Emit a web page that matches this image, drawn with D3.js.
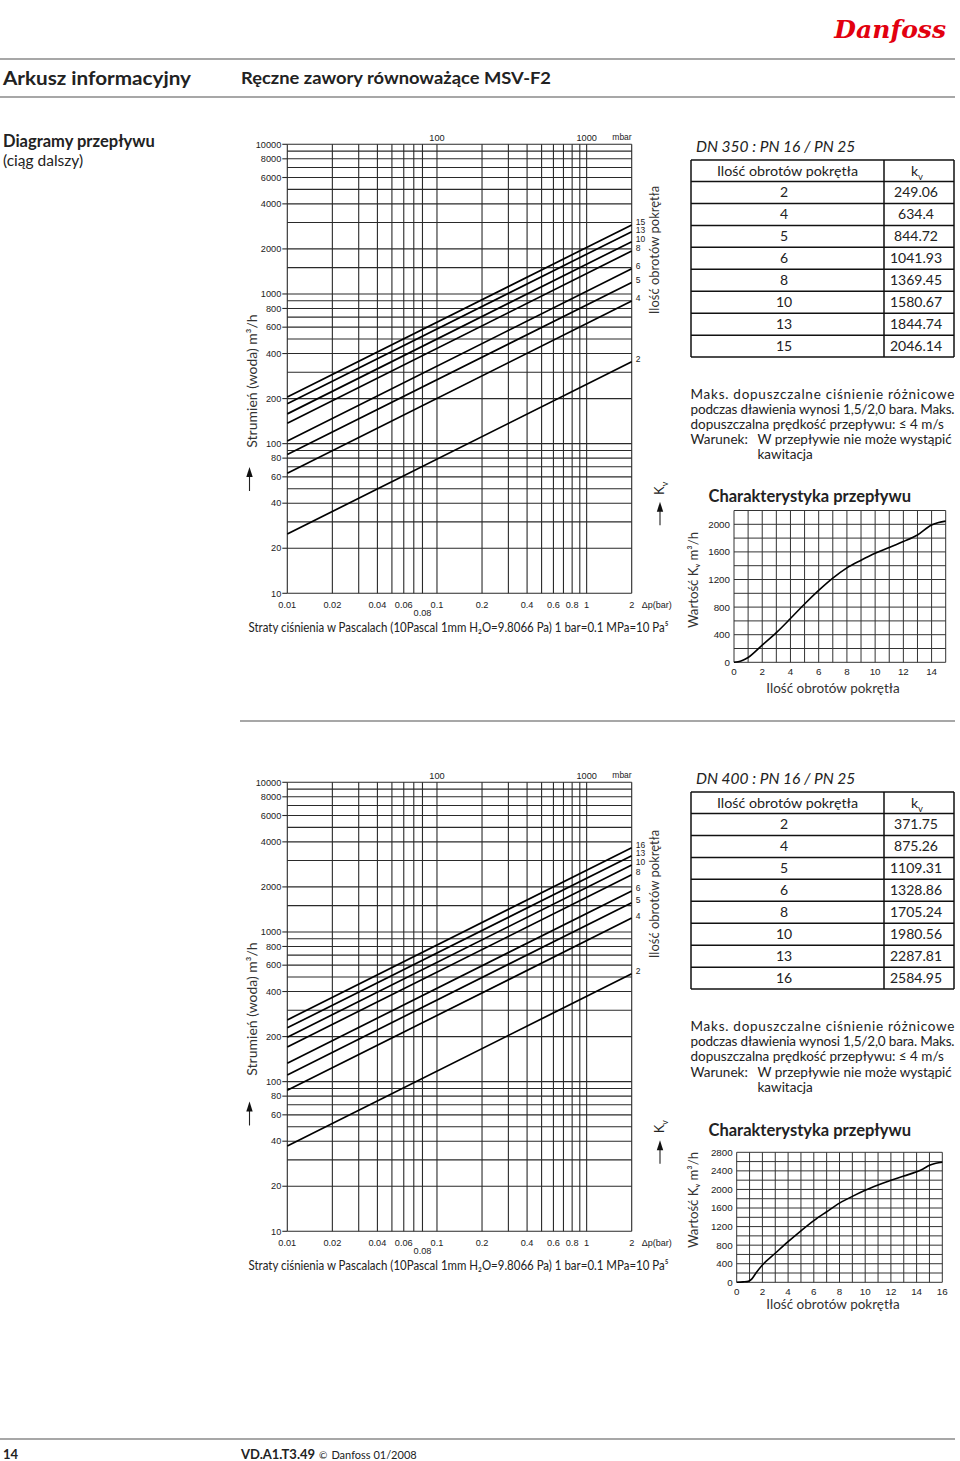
<!DOCTYPE html>
<html><head><meta charset="utf-8">
<script src="https://cdn.jsdelivr.net/npm/d3@7"></script>
<style>body{margin:0;background:#fff}svg{display:block}</style>
</head><body>
<svg id="page" width="960" height="1461"></svg>
<script>
// ---------------- DATA ----------------
const turnsA = [2, 4, 5, 6, 8, 10, 13, 15];
const kvA = [249.06, 634.4, 844.72, 1041.93, 1369.45, 1580.67, 1844.74, 2046.14];
const turnsB = [2, 4, 5, 6, 8, 10, 13, 16];
const kvB = [371.75, 875.26, 1109.31, 1328.86, 1705.24, 1980.56, 2287.81, 2584.95];

const curveTurnsA = [0, 0.5, 1, 2, 3, 4, 5, 6, 7, 8, 9, 10, 11, 12, 13, 14, 14.5, 15];
const curveKvA = [0, 20, 70, 249, 430, 634, 845, 1042, 1220, 1369, 1480, 1581, 1665, 1750, 1845, 1990, 2025, 2046];
const curveTurnsB = [0, 0.5, 0.9, 1.2, 1.5, 2, 3, 4, 5, 6, 7, 8, 9, 10, 11, 12, 13, 14, 14.5, 15, 15.5, 16];
const curveKvB = [0, 10, 20, 80, 200, 372, 625, 875, 1109, 1329, 1520, 1705, 1850, 1981, 2095, 2200, 2288, 2380, 2440, 2520, 2565, 2585];

const dpGrid = [0.01, 0.02, 0.03, 0.04, 0.05, 0.06, 0.07, 0.08, 0.1, 0.2, 0.3, 0.4, 0.5, 0.6, 0.7, 0.8, 0.9, 1, 2];
const qGrid = [10, 20, 30, 40, 50, 60, 70, 80, 90, 100, 200, 300, 400, 500, 600, 700, 800, 900, 1000,
               1500, 2000, 3000, 4000, 5000, 6000, 7000, 8000, 9000, 10000];
const qTickLabels = [10000, 8000, 6000, 4000, 2000, 1000, 800, 600, 400, 200, 100, 80, 60, 40, 20, 10];
const dpTickLabels = ["0.01", "0.02", "0.04", "0.06", "0.1", "0.2", "0.4", "0.6", "0.8", "1", "2"];
const dpLowLabels = ["0.08"];
const mbarLabels = [["0.1", "100"], ["1", "1000"]];

const charXTicksA = [0, 2, 4, 6, 8, 10, 12, 14];
const charYTicksA = [0, 400, 800, 1200, 1600, 2000];
const charXTicksB = [0, 2, 4, 6, 8, 10, 12, 14, 16];
const charYTicksB = [0, 400, 800, 1200, 1600, 2000, 2400, 2800];

const noteLines = [
  "Maks. dopuszczalne ciśnienie różnicowe",
  "podczas dławienia wynosi 1,5/2,0 bara. Maks.",
  "dopuszczalna prędkość przepływu: ≤ 4 m/s"
];

// ---------------- DRAW ----------------
const svg = d3.select("#page");
const SANS = "Lato, 'Open Sans', 'DejaVu Sans', sans-serif";
const ARIAL = "'Liberation Sans', Arial, sans-serif";

function rich(textSel, parts, size) {
  let shift = 0;
  textSel.attr("font-size", size);
  parts.forEach(p => {
    let target = 0, fs = size;
    if (p.sub) { target = size * 0.28; fs = size * 0.68; }
    if (p.sup) { target = -size * 0.42; fs = size * 0.68; }
    const ts = textSel.append("tspan").text(p.t).attr("font-size", fs);
    if (target - shift !== 0) ts.attr("dy", target - shift);
    shift = target;
  });
  return textSel;
}

// header
svg.append("text").attr("x", 946).attr("y", 38).attr("text-anchor", "end")
  .attr("font-family", "'DejaVu Serif', serif").attr("font-style", "italic").attr("font-weight", "bold")
  .attr("font-size", 25).attr("fill", "#e2000f")
  .text("Danfoss");
[59, 97].forEach(y => svg.append("line").attr("x1", 0).attr("x2", 955).attr("y1", y).attr("y2", y)
  .attr("stroke", "#8a8a8a").attr("stroke-width", 1.6));
svg.append("text").attr("x", 3).attr("y", 85).attr("font-family", SANS).attr("font-weight", "bold")
  .attr("font-size", 19).attr("fill", "#222").attr("textLength", 188).attr("lengthAdjust", "spacingAndGlyphs")
  .text("Arkusz informacyjny");
svg.append("text").attr("x", 241).attr("y", 84).attr("font-family", SANS).attr("font-weight", "bold")
  .attr("font-size", 17).attr("fill", "#222").attr("textLength", 310).attr("lengthAdjust", "spacingAndGlyphs")
  .text("Ręczne zawory równoważące MSV-F2");
svg.append("text").attr("x", 3).attr("y", 147).attr("font-family", SANS).attr("font-weight", "bold")
  .attr("font-size", 16.5).attr("fill", "#222").text("Diagramy przepływu");
svg.append("text").attr("x", 3).attr("y", 166).attr("font-family", SANS)
  .attr("font-size", 15.5).attr("fill", "#222").text("(ciąg dalszy)");

// separator & footer
svg.append("line").attr("x1", 240).attr("x2", 955).attr("y1", 721).attr("y2", 721).attr("stroke", "#8a8a8a").attr("stroke-width", 1.6);
svg.append("line").attr("x1", 0).attr("x2", 955).attr("y1", 1439).attr("y2", 1439).attr("stroke", "#8a8a8a").attr("stroke-width", 1.6);
svg.append("text").attr("x", 3).attr("y", 1459).attr("font-family", SANS).attr("font-weight", "bold").attr("font-size", 13).attr("fill", "#222").text("14");
const ft = svg.append("text").attr("x", 241).attr("y", 1459).attr("font-family", SANS).attr("fill", "#222");
ft.append("tspan").attr("font-weight", "bold").attr("font-size", 13).text("VD.A1.T3.49");
ft.append("tspan").attr("font-size", 10).attr("dx", 4).text("©");
ft.append("tspan").attr("font-size", 11).attr("dx", 4).text("Danfoss 01/2008");

// ---------- log-log flow diagram ----------
function drawLog(cfg) {
  const g = svg.append("g");
  const x = d3.scaleLog().domain([0.01, 2]).range([287.3, 631.7]);
  const y = d3.scaleLog().domain([10, 10000]).range([cfg.yBottom, cfg.yTop]);
  const [x0, x1] = x.range();
  const [yb, yt] = y.range();

  g.selectAll(".vg").data(dpGrid).join("line")
    .attr("x1", d => x(d)).attr("x2", d => x(d)).attr("y1", yb).attr("y2", yt)
    .attr("stroke", "#2a2a2a").attr("stroke-width", 1.1);
  g.selectAll(".hg").data(qGrid).join("line")
    .attr("x1", x0).attr("x2", x1).attr("y1", d => y(d)).attr("y2", d => y(d))
    .attr("stroke", "#2a2a2a").attr("stroke-width", 1.1);
  g.selectAll(".yt").data(qTickLabels).join("line")
    .attr("x1", x0 - 5).attr("x2", x0).attr("y1", d => y(d)).attr("y2", d => y(d))
    .attr("stroke", "#2a2a2a").attr("stroke-width", 1.1);
  g.selectAll(".yl").data(qTickLabels).join("text")
    .attr("x", x0 - 6).attr("y", d => y(d)).attr("dy", "0.35em").attr("text-anchor", "end")
    .attr("font-family", ARIAL).attr("font-size", 9.2).attr("fill", "#222").text(d => d);
  g.selectAll(".xl").data(dpTickLabels).join("text")
    .attr("x", d => x(+d)).attr("y", yb + 11).attr("dy", "0.35em").attr("text-anchor", "middle")
    .attr("font-family", ARIAL).attr("font-size", 9.2).attr("fill", "#222").text(d => d);
  g.selectAll(".xl2").data(dpLowLabels).join("text")
    .attr("x", d => x(+d)).attr("y", yb + 19).attr("dy", "0.35em").attr("text-anchor", "middle")
    .attr("font-family", ARIAL).attr("font-size", 9.2).attr("fill", "#222").text(d => d);
  g.append("text").attr("x", x1 + 10).attr("y", yb + 11.5).attr("dy", "0.35em")
    .attr("font-family", ARIAL).attr("font-size", 9).attr("fill", "#222").text("Δp(bar)");
  g.selectAll(".ml").data(mbarLabels).join("text")
    .attr("x", d => x(+d[0])).attr("y", yt - 7).attr("dy", "0.35em").attr("text-anchor", "middle")
    .attr("font-family", ARIAL).attr("font-size", 9.2).attr("fill", "#222").text(d => d[1]);
  g.append("text").attr("x", 622).attr("y", yt - 7).attr("dy", "0.35em").attr("text-anchor", "middle")
    .attr("font-family", ARIAL).attr("font-size", 8.5).attr("fill", "#222").text("mbar");

  // Kv lines: Q = kv * sqrt(dp)
  const line = d3.line().x(d => x(d[0])).y(d => y(d[1]));
  const dom = x.domain();
  g.selectAll(".kv").data(cfg.kv).join("path")
    .attr("d", k => line(dom.map(dp => [dp, k * Math.sqrt(dp)])))
    .attr("fill", "none").attr("stroke", "#000").attr("stroke-width", 1.7);

  const labs = cfg.turns.map((t, i) => ({ t, y: y(cfg.kv[i] * Math.sqrt(dom[1])) - 2.5 }))
    .sort((a, b) => a.y - b.y);
  for (let i = 1; i < labs.length; i++) if (labs[i].y < labs[i - 1].y + 7.8) labs[i].y = labs[i - 1].y + 7.8;
  g.selectAll(".tl").data(labs).join("text")
    .attr("x", x1 + 4).attr("y", d => d.y).attr("dy", "0.35em")
    .attr("font-family", ARIAL).attr("font-size", 8.5).attr("fill", "#222").text(d => d.t);

  g.append("text").attr("transform", `translate(659,${cfg.rightTitleY}) rotate(-90)`)
    .attr("text-anchor", "middle").attr("font-family", SANS).attr("font-size", 13).attr("fill", "#333")
    .text("Ilość obrotów pokrętła");
  rich(g.append("text").attr("transform", `translate(664,${cfg.kvY}) rotate(-90)`)
    .attr("text-anchor", "middle").attr("font-family", SANS).attr("fill", "#222"),
    [{ t: "K" }, { t: "v", sub: true }], 13);
  const arrow = (ax, tip, end) => {
    g.append("line").attr("x1", ax).attr("x2", ax).attr("y1", tip + 8).attr("y2", end).attr("stroke", "#222").attr("stroke-width", 1.1);
    g.append("path").attr("d", `M${ax},${tip} L${ax - 3.2},${tip + 10} L${ax + 3.2},${tip + 10} Z`).attr("fill", "#111");
  };
  arrow(660, cfg.kvY + 13.5, cfg.kvY + 37);
  g.append("text").attr("transform", `translate(257,${cfg.leftTitleY}) rotate(-90)`)
    .attr("text-anchor", "middle").attr("font-family", SANS).attr("font-size", 14).attr("fill", "#333")
    .text("Strumień (woda) m³/h");
  arrow(249.5, cfg.leftArrowY, cfg.leftArrowY + 24);
  g.append("text").attr("x", 248.5).attr("y", yb + 39).attr("font-family", SANS).attr("font-size", 13.5).attr("fill", "#222")
    .attr("textLength", 420).attr("lengthAdjust", "spacingAndGlyphs")
    .text("Straty ciśnienia w Pascalach (10Pascal 1mm H₂O=9.8066 Pa) 1 bar=0.1 MPa=10 Pa⁵");
}

drawLog({ yTop: 144.3, yBottom: 593.3, turns: turnsA, kv: kvA, rightTitleY: 250, kvY: 488.3, leftTitleY: 381, leftArrowY: 467 });
drawLog({ yTop: 782.3, yBottom: 1231.3, turns: turnsB, kv: kvB, rightTitleY: 894, kvY: 1126.7, leftTitleY: 1009, leftArrowY: 1101.5 });

// ---------- table + notes ----------
function drawTable(cfg) {
  const g = svg.append("g");
  const xl = 691, xm = 884, xr = 954;
  const top = cfg.top, headH = 21.5, rowH = 21.95;
  g.append("text").attr("x", 696).attr("y", top - 8).attr("font-family", SANS).attr("font-style", "italic")
    .attr("font-size", 15.5).attr("fill", "#222").text(cfg.title);
  const nRows = cfg.turns.length;
  const bottom = top + headH + nRows * rowH;
  const rowLines = d3.range(nRows + 1).map(i => top + headH + i * rowH);
  g.selectAll(".rl").data([top].concat(rowLines)).join("line")
    .attr("x1", xl).attr("x2", xr).attr("y1", d => d).attr("y2", d => d).attr("stroke", "#111").attr("stroke-width", 1.5);
  g.selectAll(".cl").data([xl, xm, xr]).join("line")
    .attr("x1", d => d).attr("x2", d => d).attr("y1", top).attr("y2", bottom).attr("stroke", "#111").attr("stroke-width", 1.5);
  g.append("text").attr("x", (xl + xm) / 2).attr("y", top + headH / 2).attr("dy", "0.35em").attr("text-anchor", "middle")
    .attr("font-family", SANS).attr("font-size", 14.3).attr("fill", "#222").text("Ilość obrotów pokrętła");
  rich(g.append("text").attr("x", 917).attr("y", top + headH / 2).attr("dy", "0.35em").attr("text-anchor", "middle")
    .attr("font-family", SANS).attr("fill", "#222"), [{ t: "k" }, { t: "v", sub: true }], 14);
  g.selectAll(".c1").data(cfg.turns).join("text")
    .attr("x", 784).attr("y", (d, i) => top + headH + (i + 0.5) * rowH).attr("dy", "0.35em").attr("text-anchor", "middle")
    .attr("font-family", SANS).attr("font-size", 14).attr("fill", "#222").text(d => d);
  g.selectAll(".c2").data(cfg.kv).join("text")
    .attr("x", 916).attr("y", (d, i) => top + headH + (i + 0.5) * rowH).attr("dy", "0.35em").attr("text-anchor", "middle")
    .attr("font-family", SANS).attr("font-size", 14).attr("fill", "#222").text(d => d);

  const ny = cfg.notesY, fs = 13.5;
  noteLines.forEach((t, i) => {
    const tx = g.append("text").attr("x", 690.5).attr("y", ny + i * 15.2).attr("font-family", SANS)
      .attr("font-size", fs).attr("fill", "#222").text(t);
    if (i < 2) tx.attr("textLength", 264).attr("lengthAdjust", "spacing");
  });
  g.append("text").attr("x", 690.5).attr("y", ny + 3 * 15.2).attr("font-family", SANS).attr("font-size", fs).attr("fill", "#222").text("Warunek:");
  g.append("text").attr("x", 757.5).attr("y", ny + 3 * 15.2).attr("font-family", SANS).attr("font-size", fs).attr("fill", "#222").text("W przepływie nie może wystąpić");
  g.append("text").attr("x", 757.5).attr("y", ny + 4 * 15.2).attr("font-family", SANS).attr("font-size", fs).attr("fill", "#222").text("kawitacja");
  g.append("text").attr("x", 708.5).attr("y", cfg.charTitleY).attr("font-family", SANS).attr("font-weight", "bold")
    .attr("font-size", 16.5).attr("fill", "#222").text("Charakterystyka przepływu");
}
drawTable({ top: 160, title: "DN 350 : PN 16 / PN 25", turns: turnsA, kv: kvA, notesY: 398.5, charTitleY: 502 });
drawTable({ top: 792, title: "DN 400 : PN 16 / PN 25", turns: turnsB, kv: kvB, notesY: 1031, charTitleY: 1135.5 });

// ---------- characteristic charts ----------
function drawChar(cfg) {
  const g = svg.append("g");
  const x = d3.scaleLinear().domain([0, cfg.xMax]).range(cfg.xRange);
  const y = d3.scaleLinear().domain([0, cfg.yMax]).range(cfg.yRange);
  const [x0, x1] = x.range(), [y0, y1] = y.range();
  g.selectAll(".vg").data(d3.range(0, cfg.xMax + 1, 1)).join("line")
    .attr("x1", d => x(d)).attr("x2", d => x(d)).attr("y1", y0).attr("y2", y1).attr("stroke", "#333").attr("stroke-width", 1);
  g.selectAll(".hg").data(d3.range(0, cfg.yMax + 1, 200)).join("line")
    .attr("x1", x0).attr("x2", x1).attr("y1", d => y(d)).attr("y2", d => y(d)).attr("stroke", "#333").attr("stroke-width", 1);
  g.selectAll(".yl").data(cfg.yTicks).join("text")
    .attr("x", x0 - 4).attr("y", d => y(d)).attr("dy", "0.35em").attr("text-anchor", "end")
    .attr("font-family", ARIAL).attr("font-size", 9.8).attr("fill", "#222").text(d => d);
  g.selectAll(".xl").data(cfg.xTicks).join("text")
    .attr("x", d => x(d)).attr("y", y0 + 9.5).attr("dy", "0.35em").attr("text-anchor", "middle")
    .attr("font-family", ARIAL).attr("font-size", 9.8).attr("fill", "#222").text(d => d);
  const line = d3.line().x(d => x(d[0])).y(d => y(d[1])).curve(d3.curveMonotoneX);
  g.append("path").attr("d", line(cfg.turns.map((t, i) => [t, cfg.kv[i]])))
    .attr("fill", "none").attr("stroke", "#000").attr("stroke-width", 1.6);
  g.append("text").attr("x", 833).attr("y", cfg.xTitleY).attr("dy", "0.35em").attr("text-anchor", "middle")
    .attr("font-family", SANS).attr("font-size", 13.5).attr("fill", "#333").text("Ilość obrotów pokrętła");
  g.append("text").attr("transform", `translate(698,${cfg.yTitleY}) rotate(-90)`).attr("text-anchor", "middle")
    .attr("font-family", SANS).attr("font-size", 13.2).attr("fill", "#333")
    .text("Wartość Kᵥ m³/h");
}
drawChar({ xMax: 15, yMax: 2200, xRange: [734, 945.7], yRange: [662.3, 510.5], turns: curveTurnsA, kv: curveKvA,
  xTicks: charXTicksA, yTicks: charYTicksA, xTitleY: 688, yTitleY: 580 });
drawChar({ xMax: 16, yMax: 2800, xRange: [736.7, 942.3], yRange: [1282.3, 1152.3], turns: curveTurnsB, kv: curveKvB,
  xTicks: charXTicksB, yTicks: charYTicksB, xTitleY: 1304, yTitleY: 1200 });
</script>
</body></html>
